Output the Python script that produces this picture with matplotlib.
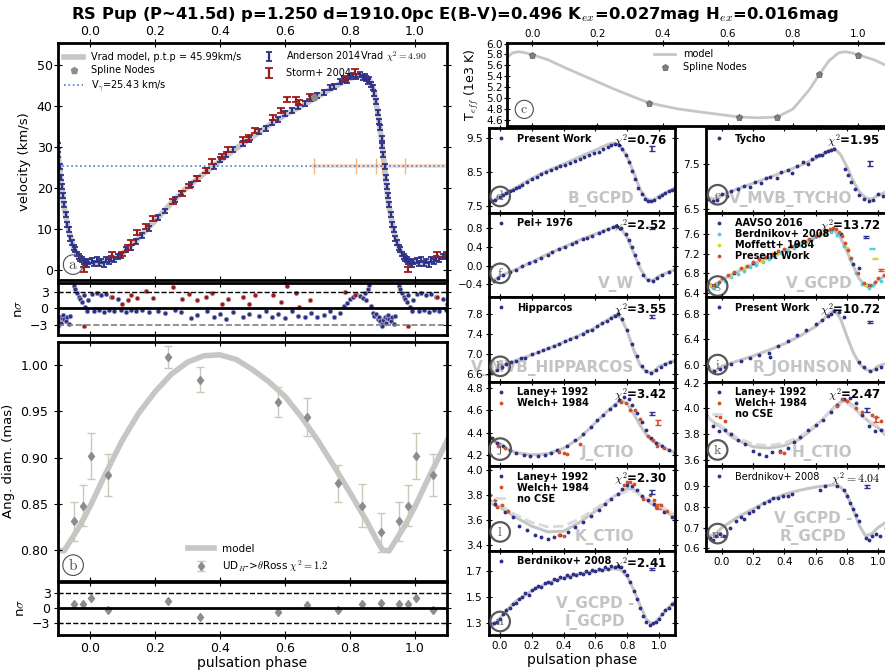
import numpy as np
import matplotlib
matplotlib.use('Agg')
import matplotlib.pyplot as plt

plt.rcParams['font.family'] = ['DejaVu Sans']
plt.rcParams['mathtext.fontset'] = 'cm'
plt.rcParams['axes.linewidth'] = 2.0

GRAY = '#c6c6c6'
NAVY = '#2d3189'
SRED = '#9e1a1a'
WRED = '#d4502b'
CYAN = '#4fd0d8'
YELL = '#d9d23c'

# ---------------- panel a: radial velocity ----------------
vmod_ph = [0.0, 0.03, 0.06, 0.10, 0.15, 0.20, 0.25, 0.30, 0.35, 0.40, 0.45, 0.50, 0.55, 0.60,
           0.65, 0.70, 0.75, 0.80, 0.83, 0.86, 0.875, 0.89, 0.90, 0.91, 0.92, 0.935, 0.95,
           0.965, 0.98, 1.0]
vmod_v = [1.8, 1.7, 2.3, 4.0, 7.8, 12.0, 16.3, 20.3, 23.5, 26.6, 29.7, 32.5, 35.3, 37.8,
          40.0, 42.3, 44.6, 46.8, 47.4, 46.3, 43.5, 36.0, 30.0, 22.0, 15.5, 9.5, 5.5,
          3.2, 2.2, 1.8]
node_ph = [0.69]
node_v = [42.2]
v_gamma = 25.43
band_ph = [0.69, 0.82, 0.88, 0.90, 0.97]

and_ph = [0.005, 0.012, 0.02, 0.028, 0.035, 0.043, 0.05, 0.058, 0.066, 0.075, 0.085, 0.095,
          0.11, 0.125, 0.14, 0.16, 0.18, 0.21, 0.23, 0.26, 0.28,
          0.31, 0.33, 0.36, 0.38, 0.40, 0.42, 0.44, 0.47, 0.49,
          0.52, 0.54, 0.56, 0.58, 0.60, 0.62, 0.64, 0.66, 0.68, 0.70,
          0.72, 0.74, 0.75, 0.77, 0.78, 0.79, 0.80, 0.81, 0.82, 0.83,
          0.84, 0.845, 0.85, 0.855, 0.86, 0.865, 0.87, 0.875, 0.88, 0.885, 0.89, 0.893, 0.897,
          0.90, 0.903, 0.907, 0.91, 0.913, 0.917, 0.92, 0.925, 0.93, 0.935, 0.94, 0.945,
          0.95, 0.955, 0.96, 0.965, 0.97, 0.975, 0.98, 0.985, 0.99, 0.995]
and_v = [2.3, 1.5, 2.6, 1.6, 2.2, 1.4, 2.5, 2.0, 2.9, 2.6, 3.4, 3.6,
         4.9, 5.6, 6.9, 8.4, 10.1, 12.9, 14.4, 17.1, 18.8,
         20.9, 22.4, 24.2, 25.3, 26.9, 28.1, 29.3, 30.9, 31.9,
         33.9, 34.6, 35.9, 36.7, 38.1, 38.9, 39.8, 40.6, 41.9, 42.6,
         43.4, 44.5, 44.8, 45.9, 46.5, 46.2, 47.1, 47.6, 47.2, 47.8,
         46.9, 47.3, 46.8, 46.1, 46.4, 45.2, 44.6, 43.1, 41.2, 38.5, 36.2, 34.8, 32.0,
         30.4, 28.1, 25.2, 22.6, 20.4, 18.2, 15.9, 13.6, 11.2, 9.8, 7.6, 6.8,
         5.4, 4.9, 3.9, 3.4, 2.9, 2.5, 2.0, 1.9, 1.4, 2.1]
and_res = [2.6, -0.5, 2.9, -0.3, 2.4, -0.6, 2.7, -0.2, 2.2, -0.4, 1.8, -0.3,
           -0.6, -0.2, -0.5, -0.3, -0.7, -0.4, -0.9, -0.2, -0.6,
           -1.8, -1.2, -0.4, -1.6, -1.0, -2.0, -0.6, -1.5, -1.1,
           -1.3, -0.4, -1.6, -1.0, -1.7, -0.5, -1.4, -1.5, -0.9, -1.6,
           -1.2, -0.5, -1.5, -0.8, 0.4, 1.0, 1.8, 2.1, 2.6, 2.3,
           1.9, 2.8, 1.5, 3.6, 4.4, 0.5, -0.8, -1.4, -1.0, -2.0, -1.6, -2.4, -2.8,
           -3.3, -2.2, -1.5, -2.6, -1.8, -1.2, -2.0, -2.4, -1.6, -2.9, -1.3, 4.8,
           4.2, 3.6, 2.9, 2.2, 1.8, 1.2, 2.4, 0.3, -0.4, 1.5]

storm_ph = [0.98, 0.067, 0.097, 0.116, 0.125, 0.146, 0.172, 0.195, 0.256, 0.284, 0.306,
            0.328, 0.356, 0.376, 0.405, 0.426, 0.472, 0.49, 0.508, 0.564, 0.587, 0.607,
            0.634, 0.644, 0.677, 0.785, 0.815]
storm_v = [0.2, 3.7, 3.9, 5.5, 6.8, 9.1, 10.7, 12.6, 16.7, 18.7, 20.5, 22.4, 24.2, 26.4,
           27.6, 29.4, 31.9, 32.4, 34.1, 37.2, 39.0, 41.6, 41.5, 40.8, 42.3, 46.7, 48.4]
storm_res = [-3.3, 2.2, 0.8, 1.5, 2.5, 1.9, 3.3, 2.0, 3.9, 1.8, 2.7, 1.5, 2.2, 2.9, 0.9,
             1.7, 2.1, 0.8, 2.5, 2.4, 1.2, 4.1, 2.8, 0.3, 1.6, 3.0, 2.4]

# ---------------- panel b: angular diameter ----------------
dmod_ph = [0.0, 0.05, 0.10, 0.15, 0.20, 0.25, 0.30, 0.35, 0.40, 0.45, 0.50, 0.55, 0.60,
           0.65, 0.70, 0.75, 0.80, 0.85, 0.88, 0.90, 0.92, 0.94, 0.97, 1.0]
dmod_d = [0.847, 0.884, 0.919, 0.948, 0.971, 0.990, 1.003, 1.010, 1.011, 1.006, 0.995,
          0.982, 0.966, 0.944, 0.919, 0.891, 0.862, 0.832, 0.812, 0.800, 0.799, 0.810,
          0.827, 0.847]
diam_ph = [0.952, 0.977, 0.002, 0.054, 0.241, 0.338, 0.579, 0.669, 0.764, 0.836, 0.894]
diam_d = [0.831, 0.848, 0.902, 0.881, 1.009, 0.984, 0.960, 0.944, 0.872, 0.848, 0.819]
diam_e = [0.021, 0.022, 0.025, 0.023, 0.012, 0.0135, 0.016, 0.0205, 0.020, 0.023, 0.021]
diam_res = [0.7, 0.7, 2.0, -0.4, 1.4, -1.9, -0.8, 0.5, -0.4, 0.7, 0.9]

# ---------------- panel c: Teff ----------------
teff_ph = [0.0, 0.05, 0.10, 0.15, 0.20, 0.25, 0.30, 0.36, 0.45, 0.55, 0.636, 0.69, 0.751,
           0.80, 0.85, 0.881, 0.91, 0.94, 0.96, 0.98, 1.0]
teff_t = [5.795, 5.70, 5.56, 5.43, 5.30, 5.17, 5.05, 4.91, 4.80, 4.72, 4.654, 4.64, 4.654,
          4.80, 5.15, 5.434, 5.68, 5.83, 5.85, 5.83, 5.795]
tnode_ph = [0.0, 0.36, 0.636, 0.751, 0.881]
tnode_t = [5.795, 4.91, 4.654, 4.654, 5.434]

# ---------------- photometric panels ----------------
mod_ph = [0.0, 0.05, 0.1, 0.2, 0.3, 0.4, 0.5, 0.6, 0.68, 0.72, 0.76, 0.8, 0.84, 0.88, 0.92, 0.96, 1.0]

b_mod = [7.80, 7.92, 8.05, 8.32, 8.55, 8.74, 8.95, 9.15, 9.32, 9.36, 9.25, 8.95, 8.50, 8.00, 7.72, 7.67, 7.80]
b_ph = [0.0, 0.02, 0.04, 0.06, 0.08, 0.1, 0.12, 0.14, 0.17, 0.2, 0.23, 0.26, 0.29, 0.32, 0.35, 0.38,
        0.41, 0.44, 0.47, 0.5, 0.53, 0.56, 0.59, 0.62, 0.65, 0.68, 0.7, 0.72, 0.75, 0.77, 0.79, 0.81,
        0.83, 0.85, 0.87, 0.89, 0.91, 0.93, 0.95, 0.97]
b_mag = [7.78, 7.84, 7.88, 7.95, 7.99, 8.05, 8.08, 8.14, 8.22, 8.30, 8.36, 8.44, 8.50, 8.56, 8.63, 8.68,
         8.72, 8.78, 8.83, 8.90, 8.95, 9.00, 9.06, 9.10, 9.17, 9.24, 9.30, 9.33, 9.30, 9.18, 9.02, 8.80,
         8.55, 8.30, 8.05, 7.85, 7.72, 7.66, 7.67, 7.70]

vw_mod = [-0.22, -0.15, -0.08, 0.08, 0.25, 0.40, 0.55, 0.68, 0.78, 0.83, 0.80, 0.60, 0.28, -0.05, -0.28, -0.32, -0.22]
vw_ph = [0.02, 0.06, 0.1, 0.14, 0.18, 0.22, 0.26, 0.3, 0.33, 0.37, 0.41, 0.45, 0.48, 0.52, 0.55, 0.58,
         0.62, 0.65, 0.68, 0.71, 0.73, 0.76, 0.79, 0.81, 0.83, 0.85, 0.87, 0.9, 0.93, 0.96, 0.99]
vw_val = [-0.20, -0.14, -0.09, -0.01, 0.05, 0.11, 0.17, 0.24, 0.30, 0.35, 0.41, 0.47, 0.51, 0.57, 0.60, 0.64,
          0.70, 0.74, 0.78, 0.83, 0.85, 0.80, 0.68, 0.55, 0.40, 0.22, 0.05, -0.20, -0.31, -0.33, -0.27]

hp_mod = [6.75, 6.81, 6.87, 6.98, 7.10, 7.23, 7.37, 7.52, 7.68, 7.77, 7.72, 7.45, 7.08, 6.78, 6.64, 6.63, 6.75]
hp_ph = [0.01, 0.04, 0.07, 0.1, 0.13, 0.16, 0.2, 0.24, 0.27, 0.3, 0.34, 0.37, 0.41, 0.44, 0.48, 0.52,
         0.55, 0.58, 0.61, 0.64, 0.67, 0.7, 0.72, 0.74, 0.77, 0.8, 0.83, 0.86, 0.89, 0.92, 0.95, 0.98]
hp_val = [6.74, 6.80, 6.83, 6.86, 6.91, 6.92, 6.99, 7.03, 7.08, 7.11, 7.16, 7.19, 7.26, 7.29, 7.33, 7.39,
          7.45, 7.48, 7.56, 7.61, 7.66, 7.72, 7.76, 7.79, 7.70, 7.48, 7.20, 6.95, 6.75, 6.66, 6.62, 6.68]

j_mod = [4.30, 4.25, 4.22, 4.20, 4.21, 4.26, 4.35, 4.49, 4.60, 4.65, 4.69, 4.66, 4.57, 4.47, 4.38, 4.32, 4.30]
j_lan_ph = [0.02, 0.06, 0.1, 0.15, 0.19, 0.24, 0.28, 0.32, 0.36, 0.42, 0.47, 0.52, 0.57, 0.61, 0.65,
            0.69, 0.72, 0.75, 0.78, 0.81, 0.83, 0.86, 0.89, 0.92, 0.95, 0.98]
j_lan_val = [4.28, 4.24, 4.22, 4.20, 4.19, 4.19, 4.20, 4.22, 4.24, 4.28, 4.33, 4.39, 4.45, 4.51, 4.56,
             4.61, 4.65, 4.69, 4.72, 4.70, 4.65, 4.58, 4.50, 4.42, 4.35, 4.31]
j_wel_ph = [0.93, 0.96, 0.99, 0.03, 0.37, 0.40, 0.42, 0.5, 0.76, 0.79, 0.82, 0.85, 0.88]
j_wel_val = [4.37, 4.33, 4.28, 4.26, 4.23, 4.22, 4.21, 4.30, 4.68, 4.67, 4.60, 4.60, 4.52]

k_mod = [3.70, 3.66, 3.62, 3.55, 3.505, 3.51, 3.58, 3.67, 3.75, 3.79, 3.82, 3.85, 3.845, 3.80, 3.76, 3.72, 3.70]
k_nocse = [3.72, 3.68, 3.64, 3.58, 3.545, 3.55, 3.61, 3.69, 3.76, 3.79, 3.81, 3.83, 3.83, 3.80, 3.77, 3.74, 3.72]
k_lan_ph = [0.03, 0.08, 0.12, 0.17, 0.22, 0.26, 0.3, 0.34, 0.38, 0.43, 0.47, 0.52, 0.57, 0.62, 0.66,
            0.7, 0.74, 0.77, 0.8, 0.83, 0.86, 0.89, 0.93, 0.97]
k_lan_val = [3.66, 3.62, 3.55, 3.52, 3.48, 3.46, 3.45, 3.46, 3.48, 3.50, 3.54, 3.58, 3.63, 3.68, 3.73,
             3.77, 3.81, 3.85, 3.88, 3.87, 3.84, 3.79, 3.76, 3.73]
k_wel_ph = [0.94, 0.97, 0.01, 0.05, 0.37, 0.4, 0.78, 0.8, 0.82, 0.84, 0.9, 0.98]
k_wel_val = [3.80, 3.76, 3.72, 3.67, 3.48, 3.47, 3.88, 3.90, 3.90, 3.89, 3.77, 3.70]

vi_mod = [1.34, 1.41, 1.47, 1.55, 1.61, 1.65, 1.68, 1.70, 1.715, 1.72, 1.71, 1.66, 1.56, 1.44, 1.33, 1.29, 1.34]
vi_ph = [0.0, 0.02, 0.04, 0.06, 0.08, 0.1, 0.12, 0.14, 0.16, 0.18, 0.2, 0.22, 0.24, 0.26, 0.28, 0.3,
         0.32, 0.34, 0.36, 0.38, 0.4, 0.42, 0.44, 0.46, 0.48, 0.5, 0.52, 0.54, 0.56, 0.58, 0.6, 0.62,
         0.64, 0.66, 0.68, 0.7, 0.72, 0.74, 0.76, 0.78, 0.8, 0.82, 0.84, 0.86, 0.88, 0.9, 0.92, 0.94,
         0.96, 0.98]
vi_val = [1.33, 1.37, 1.40, 1.42, 1.45, 1.46, 1.49, 1.50, 1.53, 1.52, 1.56, 1.57, 1.59, 1.58, 1.61, 1.62,
          1.61, 1.64, 1.63, 1.66, 1.65, 1.67, 1.66, 1.68, 1.67, 1.69, 1.68, 1.70, 1.69, 1.71, 1.70, 1.72,
          1.71, 1.73, 1.72, 1.74, 1.73, 1.74, 1.73, 1.70, 1.67, 1.62, 1.55, 1.49, 1.42, 1.36, 1.31, 1.29,
          1.30, 1.31]

ty_mod = [6.80, 6.87, 6.95, 7.07, 7.20, 7.33, 7.47, 7.63, 7.80, 7.86, 7.72, 7.45, 7.13, 6.88, 6.74, 6.71, 6.80]
ty_ph = [0.0, 0.03, 0.06, 0.1, 0.14, 0.18, 0.21, 0.25, 0.28, 0.31, 0.35, 0.38, 0.42, 0.45, 0.48, 0.52,
         0.55, 0.58, 0.6, 0.62, 0.64, 0.66, 0.68, 0.7, 0.72, 0.79, 0.81, 0.83, 0.85, 0.88, 0.91, 0.94, 0.97]
ty_val = [6.82, 6.78, 6.90, 6.93, 7.02, 6.98, 7.10, 7.08, 7.18, 7.22, 7.20, 7.33, 7.38, 7.30, 7.45, 7.55,
          7.50, 7.62, 7.68, 7.70, 7.72, 7.78, 7.80, 7.82, 7.84, 7.40, 7.25, 7.10, 6.95, 6.80, 6.72, 6.66, 6.70]

vg_mod = [6.66, 6.75, 6.83, 6.98, 7.12, 7.26, 7.40, 7.53, 7.66, 7.67, 7.52, 7.25, 6.96, 6.68, 6.54, 6.52, 6.66]
vg_aav_ph = [0.08, 0.2, 0.33, 0.47, 0.6, 0.7, 0.76, 0.84, 0.88, 0.93]
vg_aav_val = [6.80, 7.00, 7.18, 7.38, 7.55, 7.68, 7.60, 6.98, 6.90, 6.55]
vg_ber_ph = [0.02, 0.06, 0.1, 0.14, 0.18, 0.22, 0.26, 0.3, 0.34, 0.38, 0.42, 0.46, 0.5, 0.54, 0.58,
             0.62, 0.66, 0.7, 0.74, 0.78, 0.82, 0.86, 0.9, 0.94, 0.97]
vg_ber_val = [6.64, 6.72, 6.78, 6.85, 6.92, 6.97, 7.03, 7.09, 7.16, 7.21, 7.26, 7.31, 7.37, 7.43, 7.49,
              7.56, 7.61, 7.64, 7.58, 7.36, 7.08, 6.80, 6.58, 6.50, 6.56]
vg_mof_ph = [0.05, 0.15, 0.25, 0.35, 0.45, 0.55, 0.65, 0.8, 0.92]
vg_mof_val = [6.73, 6.90, 7.05, 7.20, 7.33, 7.47, 7.60, 7.32, 6.55]
vg_pw_ph = [0.0, 0.04, 0.08, 0.12, 0.16, 0.2, 0.24, 0.28, 0.32, 0.36, 0.4, 0.44, 0.48, 0.52, 0.56,
            0.6, 0.63, 0.66, 0.69, 0.71, 0.73, 0.75, 0.77, 0.79, 0.81, 0.83, 0.87, 0.91, 0.95, 0.98]
vg_pw_val = [6.70, 6.76, 6.83, 6.90, 6.95, 7.02, 7.08, 7.12, 7.20, 7.25, 7.30, 7.35, 7.40, 7.46, 7.50,
             7.56, 7.62, 7.66, 7.70, 7.72, 7.71, 7.65, 7.55, 7.42, 7.28, 7.10, 6.80, 6.60, 6.55, 6.62]

r_mod = [5.98, 6.02, 6.06, 6.14, 6.23, 6.33, 6.45, 6.60, 6.78, 6.86, 6.72, 6.45, 6.20, 6.02, 5.93, 5.90, 5.98]
r_ph = [0.02, 0.06, 0.12, 0.18, 0.24, 0.3, 0.31, 0.36, 0.42, 0.48, 0.54, 0.6, 0.64, 0.68, 0.7, 0.72,
        0.75, 0.78, 0.88, 0.91, 0.95, 0.99]
r_val = [5.97, 6.02, 6.06, 6.10, 6.15, 6.18, 6.12, 6.30, 6.38, 6.47, 6.55, 6.64, 6.70, 6.76, 6.80, 6.84,
         6.82, 6.74, 6.05, 5.96, 5.90, 5.94]

h_mod = [3.85, 3.79, 3.75, 3.70, 3.69, 3.71, 3.76, 3.86, 3.96, 4.01, 4.05, 4.06, 4.02, 3.96, 3.92, 3.88, 3.85]
h_nocse = [3.86, 3.81, 3.77, 3.72, 3.71, 3.73, 3.78, 3.87, 3.96, 4.00, 4.03, 4.04, 4.01, 3.96, 3.92, 3.89, 3.86]
h_lan_ph = [0.02, 0.06, 0.1, 0.15, 0.2, 0.24, 0.28, 0.32, 0.37, 0.42, 0.46, 0.5, 0.55, 0.6, 0.65, 0.7,
            0.74, 0.78, 0.82, 0.86, 0.9, 0.94, 0.98]
h_lan_val = [3.83, 3.80, 3.75, 3.72, 3.67, 3.64, 3.63, 3.66, 3.67, 3.69, 3.74, 3.78, 3.83, 3.87, 3.91, 3.97,
             4.03, 4.07, 4.08, 4.04, 3.95, 3.86, 3.82]
h_wel_ph = [0.96, 0.99, 0.02, 0.37, 0.4, 0.74, 0.77, 0.8, 0.86, 0.9]
h_wel_val = [3.95, 3.93, 3.90, 3.66, 3.65, 4.02, 4.07, 4.06, 4.00, 3.97]

vr_mod = [0.70, 0.725, 0.75, 0.79, 0.83, 0.86, 0.88, 0.895, 0.903, 0.905, 0.895, 0.86, 0.79, 0.71, 0.66, 0.67, 0.70]
vr_ph = [0.01, 0.05, 0.09, 0.12, 0.14, 0.17, 0.2, 0.23, 0.27, 0.3, 0.33, 0.36, 0.39, 0.42, 0.45, 0.63,
         0.66, 0.74, 0.78, 0.8, 0.82, 0.84, 0.86, 0.88, 0.92, 0.94, 0.96, 0.99]
vr_val = [0.66, 0.70, 0.73, 0.75, 0.74, 0.77, 0.78, 0.80, 0.82, 0.83, 0.84, 0.84, 0.85, 0.85, 0.86, 0.88,
          0.90, 0.90, 0.88, 0.85, 0.82, 0.79, 0.76, 0.73, 0.65, 0.64, 0.66, 0.67]

PHASE_TICKS = [0.0, 0.2, 0.4, 0.6, 0.8, 1.0]
W, H = 885.0, 670.0


def wrap(ph, val):
    ph = np.asarray(ph, float)
    val = np.asarray(val, float)
    return np.concatenate([ph - 1, ph, ph + 1]), np.concatenate([val, val, val])


def box(x0, y0, x1, y1):
    return [x0 / W, 1 - y1 / H, (x1 - x0) / W, (y1 - y0) / H]


def circ(ax, letter, x=0.06, y=0.2, fs=10, lw=1.6, pad=0.2, col='0.35'):
    ax.text(x, y, r'$\mathrm{%s}$' % letter, transform=ax.transAxes, ha='center', va='center',
            fontsize=fs, color=col, zorder=10,
            bbox=dict(boxstyle='circle,pad=%g' % pad, fc='none', ec=col, lw=lw))


fig = plt.figure(figsize=(8.85, 6.7), dpi=100)
fig.text(0.514, 0.978, r'RS Pup (P~41.5d) p=1.250 d=1910.0pc E(B-V)=0.496 K$_{ex}$=0.027mag H$_{ex}$=0.016mag',
         ha='center', va='center', fontsize=11.8, fontweight='bold')

# ---- panel a
ax = fig.add_axes(box(57.5, 43, 447.5, 280))
p, v = wrap(vmod_ph, vmod_v)
ax.plot(p, v, color=GRAY, lw=4, zorder=1, label='Vrad model, p.t.p = 45.99km/s')
ax.plot(node_ph, node_v, 'p', color='0.55', ms=5, zorder=3, label='Spline Nodes')
ax.axhline(v_gamma, ls=':', color='#3f7fd6', lw=1.2, label=r'V$_\gamma$=25.43 km/s')
ax.plot([band_ph[0], 1.1], [v_gamma, v_gamma], color='#f2b585', lw=3, alpha=0.45, zorder=1)
ax.plot(band_ph, [v_gamma] * len(band_ph), '|', color='#f2b585', ms=12, mew=1, zorder=1)
p, v = wrap(and_ph, and_v)
ax.errorbar(p, v, yerr=0.6, fmt='none', ecolor=NAVY, elinewidth=1.6, capsize=2.5, capthick=1.3,
            label=r'Anderson 2014Vrad $\chi^2=4.90$')
p, v = wrap(storm_ph, storm_v)
ax.errorbar(p, v, yerr=0.6, fmt='none', ecolor=SRED, elinewidth=1.6, capsize=3, capthick=1.3,
            label='Storm+ 2004')
ax.set_xlim(-0.1, 1.1)
ax.set_ylim(-2.44, 55.4)
ax.set_xticks(PHASE_TICKS)
ax.set_yticks([0, 10, 20, 30, 40, 50])
ax.tick_params(direction='inout', length=6, top=True, right=True, labelsize=9,
               labeltop=True, labelbottom=False, pad=0.5)
ax.set_ylabel('velocity (km/s)', fontsize=9.5)
ax.legend(loc='upper left', ncol=2, frameon=False, fontsize=7, handlelength=2,
          columnspacing=1.8, borderaxespad=0.25, labelspacing=0.35)
circ(ax, 'a', x=0.04, y=0.065, fs=11, lw=0.8, pad=0.15, col='0.3')

# ---- residuals a
ax = fig.add_axes(box(57.5, 283, 447.5, 335))
p, r = wrap(and_ph, and_res)
ax.plot(p, r, 'o', color=NAVY, ms=3.5, mec='#d0d0d0', mew=0.4)
p, r = wrap(storm_ph, storm_res)
ax.plot(p, r, 'o', color=SRED, ms=3.5, mec='#d0d0d0', mew=0.4)
ax.axhline(0, color='k', lw=2)
ax.axhline(3, color='k', lw=1, ls='--')
ax.axhline(-3, color='0.5', lw=1.2, ls='--')
ax.set_xlim(-0.1, 1.1)
ax.set_ylim(-4.9, 4.7)
ax.set_xticks(PHASE_TICKS)
ax.set_yticks([-3, 0, 3])
ax.tick_params(direction='inout', length=6, top=True, right=True, labelsize=9, labelbottom=False)
ax.set_ylabel(r'n$\sigma$', fontsize=9.5)

# ---- panel b
ax = fig.add_axes(box(57.5, 341.7, 447.5, 580.7))
p, d = wrap(dmod_ph, dmod_d)
ax.plot(p, d, color=GRAY, lw=4, zorder=1, label='model')
p, d = wrap(diam_ph, diam_d)
_, e = wrap(diam_ph, diam_e)
ax.errorbar(p, d, yerr=e, fmt='d', color='0.55', ms=4.5, ecolor='#c9c9b8', elinewidth=1,
            capsize=3, label=r'UD$_H$->$\theta$Ross $\chi^2=1.2$')
ax.set_xlim(-0.1, 1.1)
ax.set_ylim(0.7668, 1.0252)
ax.set_xticks(PHASE_TICKS)
ax.set_yticks([0.80, 0.85, 0.90, 0.95, 1.00])
ax.tick_params(direction='inout', length=6, top=True, right=True, labelsize=9, labelbottom=False)
ax.set_ylabel('Ang. diam. (mas)', fontsize=9.5)
ax.legend(loc='lower left', bbox_to_anchor=(0.31, -0.01), frameon=False, fontsize=7.5,
          handlelength=2.5, labelspacing=0.4)
circ(ax, 'b', x=0.04, y=0.065, fs=11, lw=0.8, pad=0.15, col='0.3')

# ---- residuals b
ax = fig.add_axes(box(57.5, 581.7, 447.5, 635))
p, r = wrap(diam_ph, diam_res)
ax.plot(p, r, 'd', color='0.55', ms=4.5)
ax.axhline(0, color='k', lw=2)
ax.axhline(3, color='k', lw=1, ls='--')
ax.axhline(-3, color='k', lw=1, ls='--')
ax.set_xlim(-0.1, 1.1)
ax.set_ylim(-5.46, 5.2)
ax.set_xticks(PHASE_TICKS)
ax.set_yticks([-3, 0, 3])
ax.tick_params(direction='inout', length=6, top=True, right=True, labelsize=9, pad=2)
ax.set_ylabel(r'n$\sigma$', fontsize=9.5)
ax.set_xlabel('pulsation phase', fontsize=10, labelpad=1)

# ---- panel c
ax = fig.add_axes(box(507, 43, 890.7, 126))
p, t = wrap(teff_ph, teff_t)
ax.plot(p, t, color=GRAY, lw=2, label='model')
p, t = wrap(tnode_ph, tnode_t)
ax.plot(p, t, 'p', color='0.5', ms=5, mec='0.35', mew=0.5, label='Spline Nodes')
ax.set_xlim(-0.077, 1.1)
ax.set_ylim(4.49, 6.01)
ax.set_xticks(PHASE_TICKS)
ax.set_yticks([4.6, 4.8, 5.0, 5.2, 5.4, 5.6, 5.8, 6.0])
ax.tick_params(direction='inout', length=5, top=True, right=True, labelsize=7.5,
               labeltop=True, labelbottom=False, pad=0.5)
ax.set_ylabel(r'T$_{eff}$ (1e3 K)', fontsize=9)
ax.legend(loc='upper left', bbox_to_anchor=(0.36, 1.03), frameon=False, fontsize=7,
          handlelength=2.2, labelspacing=0.3)
circ(ax, 'c', x=0.045, y=0.2, fs=10, lw=0.8, pad=0.15, col='0.3')

# ---- small photometric panels
ROWS = [128, 212.5, 297, 381.5, 466, 550.5, 635]
LEFT = (489, 675, (-0.069, 1.1), 0.957)
RIGHT = (706.4, 893.6, (-0.1, 1.1), 0.93)


def small(col, row, ylim, yticks, model, series, chi, name, letter, icons,
          nocse=None, bold=True, ly=0.2, bottom=False):
    x0, x1, xl, chix = col
    ax = fig.add_axes(box(x0, ROWS[row], x1, ROWS[row + 1]))
    p, m = wrap(mod_ph, model)
    ax.plot(p, m, color=GRAY, lw=2.2, zorder=1)
    for ph, val, c, lab in series:
        p, m = wrap(ph, val)
        ax.plot(p, m, '.', color=c, ms=3.5, zorder=2, label=lab)
    if nocse is not None:
        p, m = wrap(mod_ph, nocse)
        ax.plot(p, m, color='#dadada', lw=2, ls='--', zorder=1, label='no CSE')
    for x, y, e, c in icons:
        ax.errorbar([x], [y], yerr=e, fmt='none', ecolor=c, elinewidth=1.2, capsize=2)
    ax.set_xlim(xl)
    ax.set_ylim(ylim)
    ax.set_xticks(PHASE_TICKS)
    ax.set_yticks(yticks)
    ax.tick_params(direction='inout', length=5, top=True, right=True, labelsize=7.5,
                   labelbottom=bottom, pad=2)
    w = 'bold' if bold else 'normal'
    ax.legend(loc='upper left', frameon=False, prop={'weight': w, 'size': 7},
              handlelength=1.3, handletextpad=1.0, labelspacing=0.1, borderaxespad=0.2,
              markerscale=1.0)
    ax.text(chix, 0.95, chi, transform=ax.transAxes, ha='right', va='top',
            fontsize=8.5, fontweight=w)
    ax.text(0.78, 0.06, name, transform=ax.transAxes, ha='right', va='bottom',
            multialignment='center', color='#c4c4c4', fontsize=11, fontweight='bold', zorder=0)
    circ(ax, letter, x=0.06, y=ly)
    return ax


small(LEFT, 0, (7.32, 9.8), [7.5, 8.5, 9.5], b_mod, [(b_ph, b_mag, NAVY, 'Present Work')],
      r'$\chi^2$=0.76', 'B_GCPD', 'd', [(0.955, 9.2, 0.08, NAVY)], ly=0.19)
small(LEFT, 1, (-0.67, 1.14), [-0.4, 0.0, 0.4, 0.8], vw_mod, [(vw_ph, vw_val, NAVY, 'Pel+ 1976')],
      r'$\chi^2$=2.52', 'V_W', 'f', [(0.955, 0.80, 0.02, NAVY)], ly=0.28)
small(LEFT, 2, (6.45, 8.13), [6.6, 7.0, 7.4, 7.8], hp_mod, [(hp_ph, hp_val, NAVY, 'Hipparcos')],
      r'$\chi^2$=3.55', 'V_MVB_HIPPARCOS', 'h', [(0.955, 7.74, 0.03, NAVY)], ly=0.18)
small(LEFT, 3, (4.10, 4.86), [4.2, 4.4, 4.6, 4.8], j_mod,
      [(j_lan_ph, j_lan_val, NAVY, 'Laney+ 1992'), (j_wel_ph, j_wel_val, WRED, 'Welch+ 1984')],
      r'$\chi^2$=3.42', 'J_CTIO', 'j', [(0.955, 4.57, 0.015, NAVY), (0.995, 4.49, 0.02, WRED)])
small(LEFT, 4, (3.356, 4.03), [3.4, 3.6, 3.8, 4.0], k_mod,
      [(k_lan_ph, k_lan_val, NAVY, 'Laney+ 1992'), (k_wel_ph, k_wel_val, WRED, 'Welch+ 1984')],
      r'$\chi^2$=2.30', 'K_CTIO', 'l', [(0.955, 3.82, 0.015, NAVY), (0.995, 3.71, 0.02, WRED)],
      nocse=k_nocse, ly=0.22)
small(LEFT, 5, (1.21, 1.86), [1.3, 1.5, 1.7], vi_mod, [(vi_ph, vi_val, NAVY, 'Berdnikov+ 2008')],
      r'$\chi^2$=2.41', 'V_GCPD -\nI_GCPD', 'n', [(0.955, 1.72, 0.008, NAVY)], ly=0.16, bottom=True)
fig.text((489 + 675) / 2 / W, 1 - 660 / H, 'pulsation phase', ha='center', va='center', fontsize=10)

small(RIGHT, 0, (6.41, 8.32), [6.5, 7.5], ty_mod, [(ty_ph, ty_val, NAVY, 'Tycho')],
      r'$\chi^2$=1.95', 'V_MVB_TYCHO', 'e', [(0.95, 7.52, 0.06, NAVY)], ly=0.21)
small(RIGHT, 1, (6.31, 8.04), [6.4, 6.8, 7.2, 7.6], vg_mod,
      [(vg_aav_ph, vg_aav_val, NAVY, 'AAVSO 2016'), (vg_ber_ph, vg_ber_val, CYAN, 'Berdnikov+ 2008'),
       (vg_mof_ph, vg_mof_val, YELL, 'Moffett+ 1984'), (vg_pw_ph, vg_pw_val, WRED, 'Present Work')],
      r'$\chi^2$=13.72', 'V_GCPD', 'g',
      [(0.92, 7.53, 0.02, NAVY), (0.96, 7.30, 0.015, CYAN), (0.98, 7.10, 0.015, YELL),
       (1.02, 6.86, 0.015, WRED)], ly=0.13)
small(RIGHT, 2, (5.74, 7.06), [6.0, 6.4, 6.8], r_mod, [(r_ph, r_val, NAVY, 'Present Work')],
      r'$\chi^2$=10.72', 'R_JOHNSON', 'i', [(0.95, 6.67, 0.015, NAVY)])
small(RIGHT, 3, (3.55, 4.21), [3.6, 3.8, 4.0, 4.2], h_mod,
      [(h_lan_ph, h_lan_val, NAVY, 'Laney+ 1992'), (h_wel_ph, h_wel_val, WRED, 'Welch+ 1984')],
      r'$\chi^2$=2.47', 'H_CTIO', 'k', [(0.93, 3.99, 0.015, NAVY), (0.99, 3.91, 0.02, WRED)],
      nocse=h_nocse, ly=0.19)
small(RIGHT, 4, (0.59, 0.996), [0.6, 0.7, 0.8, 0.9], vr_mod, [(vr_ph, vr_val, NAVY, 'Berdnikov+ 2008')],
      r'$\chi^2=4.04$', 'V_GCPD -\nR_GCPD', 'm', [(0.93, 0.897, 0.008, NAVY)], bold=False, bottom=True)

fig.savefig('out.png', dpi=100)
